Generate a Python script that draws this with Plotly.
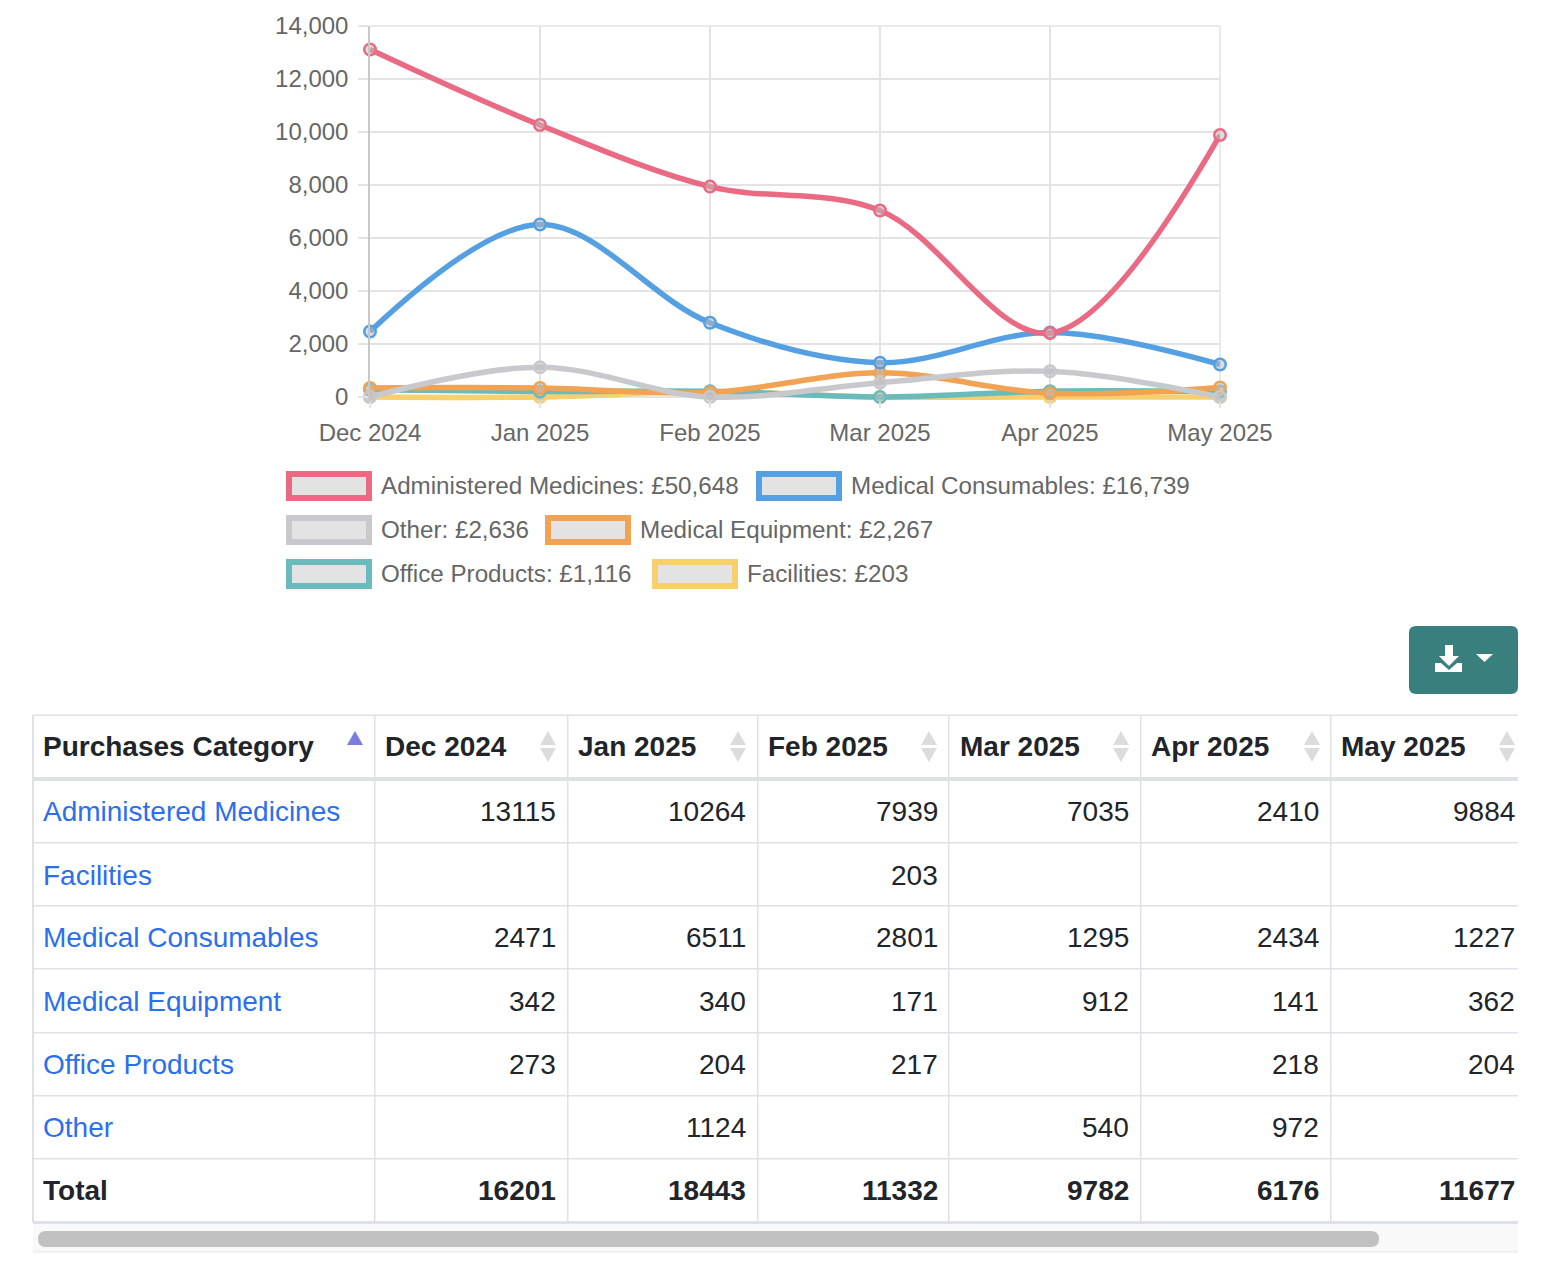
# Purchases by category: line chart, legend and table, laid out on one page
import plotly.graph_objects as go

# =============================================================================
# DATA
# =============================================================================
months = ["Dec 2024", "Jan 2025", "Feb 2025", "Mar 2025", "Apr 2025", "May 2025"]
categories = ["Administered Medicines", "Facilities", "Medical Consumables",
              "Medical Equipment", "Office Products", "Other"]

administered = [13115, 10264, 7939, 7035, 2410, 9884]
facilities = [None, None, 203, None, None, None]
consumables = [2471, 6511, 2801, 1295, 2434, 1227]
equipment = [342, 340, 171, 912, 141, 362]
office = [273, 204, 217, None, 218, 204]
other = [None, 1124, None, 540, 972, None]
totals = [16201, 18443, 11332, 9782, 6176, 11677]

legend_labels = ["Administered Medicines: £50,648", "Medical Consumables: £16,739",
                 "Other: £2,636", "Medical Equipment: £2,267",
                 "Office Products: £1,116", "Facilities: £203"]

y_ticks = [0, 2000, 4000, 6000, 8000, 10000, 12000, 14000]

# =============================================================================
# STYLE
# =============================================================================
W, H = 1544, 1268
PINK, BLUE, GREY = "#EA6A84", "#559FE3", "#C8C9CD"
ORANGE, TEAL, YELLOW = "#F1A252", "#69BCBB", "#F7CF6D"
FONT = "Liberation Sans"
TEXT = "#212529"
LINE = "#DEE2E6"
GRID = "#E3E3E3"

# lines are clipped to the plot area, so the y axis runs a little below zero
Y_FLOOR = -150
PLOT_TOP, PLOT_ZERO = 26, 397
PLOT_BOTTOM = PLOT_ZERO + (PLOT_ZERO - PLOT_TOP) * -Y_FLOOR / 14000

shapes = []
notes = []


def px(x):
    return x / W


def py(y):
    return 1 - y / H


def rect(x0, y0, x1, y1, fill, line=None, lw=0):
    shapes.append(dict(type="rect", xref="paper", yref="paper", x0=px(x0), x1=px(x1),
                       y0=py(y0), y1=py(y1), fillcolor=fill,
                       line=dict(color=line or fill, width=lw)))


def path(points, fill):
    d = "M" + "L".join(f"{px(a):.5f},{py(b):.5f}" for a, b in points) + "Z"
    shapes.append(dict(type="path", xref="paper", yref="paper", path=d,
                       fillcolor=fill, line=dict(width=0)))


def rounded(x0, y0, x1, y1, r, fill):
    a, b, c, d = px(x0), py(y0), px(x1), py(y1)
    rx, ry = r / W, r / H
    d_str = (f"M{a + rx},{b} L{c - rx},{b} Q{c},{b} {c},{b - ry} L{c},{d + ry} "
             f"Q{c},{d} {c - rx},{d} L{a + rx},{d} Q{a},{d} {a},{d + ry} "
             f"L{a},{b - ry} Q{a},{b} {a + rx},{b} Z")
    shapes.append(dict(type="path", xref="paper", yref="paper", path=d_str,
                       fillcolor=fill, line=dict(width=0)))


def grid_edge(x0, y0, x1, y1):
    shapes.append(dict(type="line", xref="paper", yref="paper", layer="below",
                       x0=px(x0), x1=px(x1), y0=py(y0), y1=py(y1),
                       line=dict(color=GRID, width=1.5)))


def note(x, y, text, size, color=TEXT, anchor="left", bold=False):
    notes.append(dict(xref="paper", yref="paper", x=px(x), y=py(y), text=f"<b>{text}</b>" if bold else text,
                      showarrow=False, xanchor=anchor, yanchor="middle", xshift=0,
                      font=dict(family=FONT, size=size, color=color), borderpad=0, borderwidth=0))


# =============================================================================
# CHART
# =============================================================================
# back to front, the first legend entry is drawn on top
series = [("Facilities", facilities, YELLOW), ("Office Products", office, TEAL),
          ("Medical Equipment", equipment, ORANGE), ("Other", other, GREY),
          ("Medical Consumables", consumables, BLUE), ("Administered Medicines", administered, PINK)]

fig = go.Figure()
for name, values, colour in series:
    fig.add_trace(go.Scatter(
        x=months, y=[v or 0 for v in values], name=name, mode="lines+markers",
        cliponaxis=False, showlegend=False,
        line=dict(color=colour, width=5.5, shape="spline", smoothing=1.0),
        marker=dict(size=11.5, color="rgba(190,190,190,0.5)", line=dict(color=colour, width=2.5)),
    ))

# plotly leaves out the grid lines that sit on the far ends of the axes
grid_edge(1220, PLOT_TOP, 1220, PLOT_BOTTOM)
grid_edge(370, PLOT_TOP, 1220, PLOT_TOP)

# =============================================================================
# LEGEND
# =============================================================================
swatches = [(286, 471, PINK), (756, 471, BLUE), (286, 515, GREY),
            (545, 515, ORANGE), (286, 559, TEAL), (652, 559, YELLOW)]
for (sx, sy, colour), label in zip(swatches, legend_labels):
    rect(sx, sy, sx + 86, sy + 30, colour)
    rect(sx + 6, sy + 6, sx + 80, sy + 24, "#E3E3E3")
    note(sx + 95, sy + 14, label, 24.2, "#666666")

# =============================================================================
# DOWNLOAD BUTTON
# =============================================================================
rounded(1409, 626, 1518, 694, 7, "#387F7E")
path([(1445, 645), (1453, 645), (1453, 656), (1459, 656), (1449, 666), (1439, 656), (1445, 656)], "white")
path([(1435, 663), (1441, 663), (1449, 670), (1457, 663), (1462, 663), (1462, 672), (1435, 672)], "white")
path([(1476, 654), (1493, 654), (1484.5, 662)], "white")

# =============================================================================
# TABLE
# =============================================================================
col_edges = [33, 375, 568, 758, 949, 1141, 1331]
row_lines = [843, 906, 969, 1033, 1096, 1159]
row_mid = [811, 875, 938, 1001, 1064, 1127]
num_right = [556, 746, 938, 1129, 1319, 1515]
head_left = [43, 385, 578, 768, 960, 1151, 1341]
arrow_mid = [548, 738, 929, 1121, 1312, 1507]
TABLE_END = 1518

rect(33, 1224, TABLE_END, 1252, "#F9F9F9")
rect(33, 1251, TABLE_END, 1252.5, "#EEEEEE")
rounded(38, 1231, 1379, 1247, 8, "#C1C1C1")

rect(33, 714.5, TABLE_END, 716, LINE)
rect(33, 777, TABLE_END, 781, LINE)
for ly in row_lines:
    rect(33, ly - 1, TABLE_END, ly + 0.5, LINE)
rect(33, 1221, TABLE_END, 1224, LINE)
for i, lx in enumerate(col_edges):
    rect(lx - 1, 715, lx + 1 if i == 0 else lx + 0.5, 1222, LINE)

note(head_left[0], 746, "Purchases Category", 28, bold=True)
path([(347, 745), (363, 745), (355, 731)], "#7B7BE0")
for i, month in enumerate(months):
    note(head_left[i + 1], 746, month, 28, bold=True)
    mid = arrow_mid[i]
    path([(mid - 8, 745), (mid + 8, 745), (mid, 731)], "#DCDCDC")
    path([(mid - 8, 748), (mid + 8, 748), (mid, 762)], "#DCDCDC")

rows = [administered, facilities, consumables, equipment, office, other]
for label, values, mid in zip(categories, rows, row_mid):
    note(43, mid, label, 28, "#2B6FED")
    for value, right in zip(values, num_right):
        if value is not None:
            note(right, mid, str(value), 28, anchor="right")

note(43, 1190, "Total", 28, bold=True)
for value, right in zip(totals, num_right):
    note(right, 1190, str(value), 28, anchor="right", bold=True)

# =============================================================================
# LAYOUT
# =============================================================================
fig.update_layout(
    width=W, height=H, margin=dict(l=0, r=0, t=0, b=0),
    paper_bgcolor="white", plot_bgcolor="white", showlegend=False,
    shapes=shapes, annotations=notes,
    font=dict(family=FONT, size=24, color="#666666"),
)
fig.update_xaxes(
    domain=[px(370), px(1220)], range=[0, 5], type="category", categoryorder="array", categoryarray=months,
    automargin=False,
    showgrid=True, gridcolor=GRID, gridwidth=1.5, zeroline=False, showline=False,
    ticks="outside", ticklen=6, tickwidth=1.5, tickcolor=GRID,
    tickfont=dict(family=FONT, size=24, color="#666666"), ticklabelstandoff=4,
)
fig.update_yaxes(
    domain=[py(PLOT_BOTTOM), py(PLOT_TOP)], range=[Y_FLOOR, 14000], tickvals=y_ticks, tickformat=",",
    automargin=False,
    showgrid=True, gridcolor=GRID, gridwidth=1.5, zeroline=False,
    showline=True, linecolor="#C8C8C8", linewidth=1.5,
    ticks="outside", ticklen=10, tickwidth=1.5, tickcolor=GRID,
    tickfont=dict(family=FONT, size=24, color="#666666"), ticklabelstandoff=5,
)

fig.write_html("out.html", config={"displayModeBar": False},
               post_script="document.body.style.margin='0';")
